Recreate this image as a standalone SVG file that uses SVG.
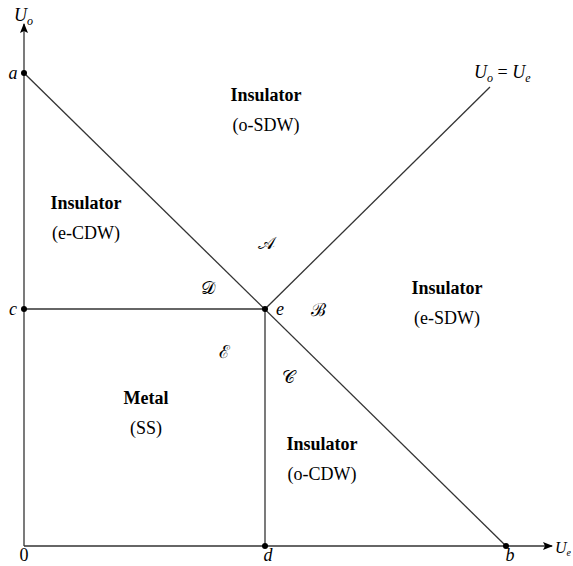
<svg xmlns="http://www.w3.org/2000/svg" width="573" height="566" viewBox="0 0 573 566">
<style>
.ln{stroke:#333;stroke-width:1.3;fill:none}
.t{font-family:"Liberation Serif","DejaVu Serif",serif;font-size:18px;fill:#000;text-anchor:middle}
.s{text-anchor:start}
.b{font-weight:bold}
.i{font-style:italic}
.sub{font-size:12px}
.cal{font-family:"DejaVu Serif","Liberation Serif",serif;font-size:18px;text-anchor:middle}
.dot{fill:#000}
</style>
<defs>
<marker id="arr" markerWidth="10" markerHeight="8" refX="9" refY="4" orient="auto" markerUnits="userSpaceOnUse">
<path d="M0,0 L10,4 L0,8 L2,4 Z" fill="#000"/>
</marker>
</defs>
<rect width="573" height="566" fill="#fff"/>
<g id="connectors">
<line class="ln" x1="24" y1="546" x2="24" y2="24" marker-end="url(#arr)"/>
<line class="ln" x1="24" y1="546" x2="552" y2="546" marker-end="url(#arr)"/>
<line class="ln" x1="24" y1="73" x2="506" y2="546"/>
<line class="ln" x1="265" y1="309" x2="490" y2="87"/>
<line class="ln" x1="24" y1="309" x2="265" y2="309"/>
<line class="ln" x1="265" y1="309" x2="265" y2="546"/>
</g>
<g id="points">
<circle class="dot" cx="24" cy="73" r="3"/>
<circle class="dot" cx="24" cy="309" r="3"/>
<circle class="dot" cx="265" cy="309" r="3"/>
<circle class="dot" cx="265" cy="546" r="3"/>
<circle class="dot" cx="506" cy="546" r="3"/>
</g>
<g id="axis-labels">
<text class="t i s" x="14" y="21">U<tspan class="sub" dy="4">o</tspan></text>
<text class="t i s" x="555" y="553" font-size="16" style="font-size:16px">U<tspan style="font-size:10px" dy="3">e</tspan></text>
<text class="t i s" x="474" y="78">U<tspan class="sub" dy="4">o</tspan><tspan dy="-4" font-style="normal"> = </tspan>U<tspan class="sub" dy="4">e</tspan></text>
<text class="t i" x="13" y="79">a</text>
<text class="t i" x="13" y="315">c</text>
<text class="t i" x="280" y="315">e</text>
<text class="t" x="24" y="561">0</text>
<text class="t i" x="268" y="561">d</text>
<text class="t i" x="510" y="561">b</text>
</g>
<g id="region-o-SDW">
<text class="t b" x="266" y="101">Insulator</text>
<text class="t" x="266" y="131">(o-SDW)</text>
</g>
<g id="region-e-CDW">
<text class="t b" x="86" y="209">Insulator</text>
<text class="t" x="86" y="239">(e-CDW)</text>
</g>
<g id="region-e-SDW">
<text class="t b" x="447" y="294">Insulator</text>
<text class="t" x="447" y="324">(e-SDW)</text>
</g>
<g id="region-SS">
<text class="t b" x="146" y="404">Metal</text>
<text class="t" x="146" y="434">(SS)</text>
</g>
<g id="region-o-CDW">
<text class="t b" x="322" y="450">Insulator</text>
<text class="t" x="322" y="480">(o-CDW)</text>
</g>
<g id="phase-labels">
<text class="cal" x="266" y="249">𝒜</text>
<text class="cal" x="318" y="316">ℬ</text>
<text class="cal" x="288" y="383">𝒞</text>
<text class="cal" x="208" y="294">𝒟</text>
<text class="cal" x="224" y="358">ℰ</text>
</g>
</svg>
